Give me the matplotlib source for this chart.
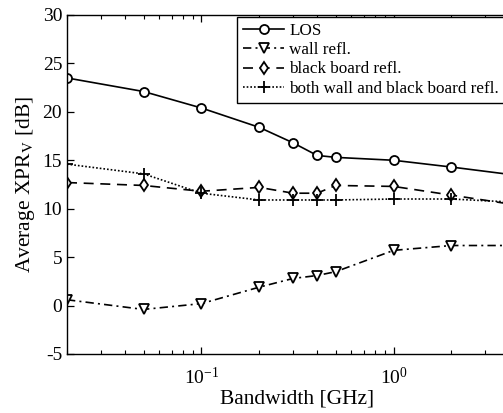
import matplotlib
matplotlib.use("Agg")
import matplotlib.pyplot as plt
from matplotlib.ticker import LogLocator, LogFormatterSciNotation, NullFormatter, MultipleLocator

plt.rcParams['font.family'] = ['Liberation Serif', 'DejaVu Serif']
plt.rcParams['mathtext.fontset'] = 'stix'
plt.rcParams['axes.unicode_minus'] = False

# Bandwidth values [GHz]
bandwidth = [0.02, 0.05, 0.1, 0.2, 0.3, 0.4, 0.5, 1.0, 2.0, 5.0]

# Average XPR_V [dB] per scenario
xpr_los = [23.5, 22.1, 20.4, 18.4, 16.8, 15.5, 15.3, 15.0, 14.3, 13.3]
xpr_wall = [0.6, -0.4, 0.2, 1.9, 2.8, 3.1, 3.5, 5.7, 6.2, 6.2]
xpr_board = [12.7, 12.4, 11.8, 12.2, 11.6, 11.6, 12.4, 12.3, 11.4, 10.2]
xpr_both = [14.6, 13.6, 11.6, 10.9, 10.9, 10.9, 10.9, 11.0, 11.0, 10.6]

labels = ['LOS', 'wall refl.', 'black board refl.', 'both wall and black board refl.']

fig = plt.figure(figsize=(5.03, 4.13), dpi=100)
ax = fig.add_axes([0.1332, 0.1429, 0.9165, 0.8208])

mk = dict(markersize=6.5, markerfacecolor='white', markeredgecolor='black',
          markeredgewidth=1.3, color='black', linewidth=1.2)
ax.plot(bandwidth, xpr_los, linestyle='-', marker='o', label=labels[0], **mk)
ax.plot(bandwidth, xpr_wall, linestyle=(0, (5, 2.5, 1.2, 2.5)), marker='v', label=labels[1], **mk)
ax.plot(bandwidth, xpr_board, linestyle=(0, (6, 4)), marker='d', label=labels[2], **mk)
ax.plot(bandwidth, xpr_both, linestyle=(0, (1, 1.2)), marker='+', label=labels[3],
        markersize=9, color='black', linewidth=1.2, markeredgewidth=1.3)

ax.set_xscale('log')
ax.set_xlim(0.02, 5)
ax.set_ylim(-5, 30)
ax.yaxis.set_major_locator(MultipleLocator(5))
ax.xaxis.set_major_locator(LogLocator(base=10, numticks=10))
ax.xaxis.set_major_formatter(LogFormatterSciNotation())
ax.xaxis.set_minor_locator(LogLocator(base=10, subs=range(2, 10), numticks=20))
ax.xaxis.set_minor_formatter(NullFormatter())

ax.tick_params(which='both', direction='in', top=True, right=True, labelsize=14)
ax.tick_params(which='major', length=5, width=0.9)
ax.tick_params(which='minor', length=3, width=0.8)
ax.tick_params(axis='x', which='major', pad=9)
for s in ax.spines.values():
    s.set_linewidth(1.0)

ax.set_xlabel('Bandwidth [GHz]', fontsize=15.5, labelpad=1)
ax.set_ylabel('Average XPR$_\\mathrm{V}$ [dB]', fontsize=15.5, labelpad=4)

leg = ax.legend(loc='upper left', bbox_to_anchor=(0.369, 0.995), fontsize=12.3,
                frameon=True, fancybox=False, edgecolor='black', framealpha=1,
                handlelength=2.4, handletextpad=0.3, borderpad=0.35,
                labelspacing=0.2, borderaxespad=0)
leg.get_frame().set_linewidth(1.0)

fig.savefig('out.png', dpi=100)
